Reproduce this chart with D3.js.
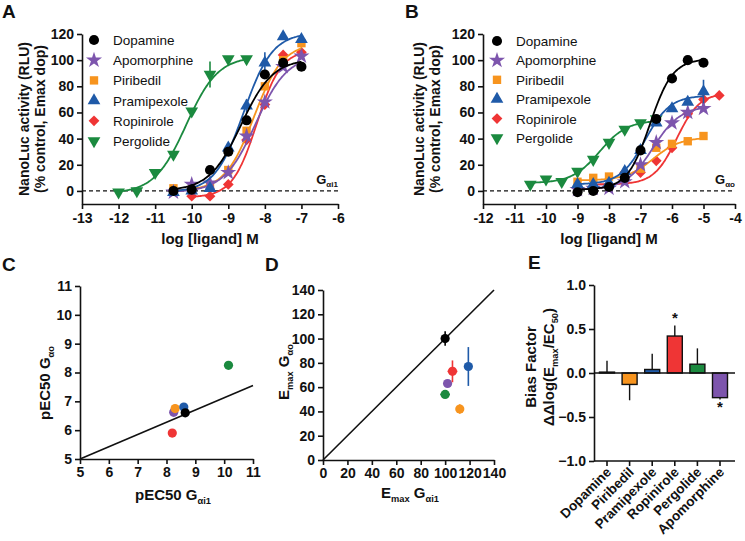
<!DOCTYPE html>
<html><head><meta charset="utf-8">
<script src="https://cdn.jsdelivr.net/npm/d3@7"></script>
<style>body{margin:0;background:#fff} text{font-family:"Liberation Sans",Arial,sans-serif;fill:#111}</style>
</head><body><svg id="c" width="745" height="541"></svg>
<script>
// ---------- DATA ----------
const ligands = ["Dopamine","Apomorphine","Piribedil","Pramipexole","Ropinirole","Pergolide"];
const colors  = ["#000000","#7d55ad","#f7941e","#1f5aa8","#ef3535","#1b8a3f"];
const symbolNames = ["circle","star","square","triangle","diamond","triangleDown"];

// Panel A (G alpha i1): log [ligand] M and response (%)
const aX = [
  [-10.5,-10,-9.5,-9,-8.5,-8,-7.5,-7],
  [-10.5,-10,-9.5,-9,-8.5,-8,-7.5,-7],
  [-10.5,-10,-9.5,-9,-8.5,-8,-7.5,-7],
  [-10.5,-10,-9.5,-9,-8.5,-8,-7.5,-7],
  [-10,-9.5,-9,-8.5,-8,-7.5,-7],
  [-12,-11.5,-11,-10.5,-10,-9.5,-9,-8.5]
];
const aY = [
  [0,1,16,30,54,89,98,95],
  [-1,5,6,14,42,68,95,103],
  [2,1,3,16,46,80,100,113],
  [-1,0,2,33,65,98,118,116],
  [-4,-4,5,39,66,104,106],
  [-1,0,14,28,61,89,101,101]
];
const aErr = [
  [0,0,0,0,0,0,0,0],
  [0,0,0,0,0,0,0,0],
  [0,0,0,0,0,0,0,4],
  [0,0,0,0,5,8,0,0],
  [0,0,0,0,0,0,0],
  [0,0,0,0,0,10,0,0]
];
// fitted curve params: bottom, top, logEC50, hill
const aBottom = [0,-1,0,-1,-5,-2];
const aTop    = [101,104,113,121,108,103];
const aLogEC50= [-8.65,-8.25,-8.3,-8.58,-8.22,-10.15];
const aHill   = [1,1,1.1,1.1,1.3,1];

// Panel B (G alpha o)
const bX = [
  [-9,-8.5,-8,-7.5,-7,-6.5,-6,-5.5,-5],
  [-9,-8.5,-8,-7.5,-7,-6.5,-6,-5.5,-5],
  [-9,-8.5,-8,-7.5,-7,-6.5,-6,-5.5,-5],
  [-9,-8.5,-8,-7.5,-7,-6.5,-6,-5.5,-5],
  [-8.5,-8,-7.5,-7,-6.5,-6,-5.5,-5,-4.5],
  [-10.5,-10,-9.5,-9,-8.5,-8,-7.5,-7,-6.5]
];
const bY = [
  [-1,0,3,10,31,55,86,100,98],
  [1,2,2,7,20,37,52,60,63],
  [7,10,11,12,17,33,36,38,42],
  [5,5,6,15,31,52,63,68,76],
  [3,5,14,14,23,33,59,70,73],
  [5,9,7,15,24,37,47,52,55]
];
const bErr = [
  [0,0,0,0,0,0,0,0,0],
  [0,0,0,0,0,0,0,0,0],
  [0,0,0,0,0,0,0,0,0],
  [0,0,0,0,0,0,0,0,9],
  [0,0,0,0,0,0,0,0,0],
  [0,0,0,0,0,0,0,0,0]
];
const bBottom = [1,1,8,5,5,6];
const bTop    = [101,65,41,73,75,54];
const bLogEC50= [-6.7,-6.6,-6.6,-6.85,-5.85,-8.3];
const bHill   = [1.2,1,1,1.1,1.2,1];

// Panel C: pEC50
const cGi1 = [8.65,8.25,8.3,8.6,8.2,10.15];
const cGo  = [6.6,6.62,6.75,6.8,5.9,8.25];
const cGoErr = [0.05,0.05,0.15,0.05,0.05,0.12];
const cLineX = [5,11];
const cLineY = [5,7.55];

// Panel D: Emax
const dGi1 = [100,102,112,119,106,100];
const dGo  = [100,63,42,77,73,54];
const dGoErr = [6,2,4,16,9,2];
const dGi1Err = [2,1,2,2,4,4];
const dLine = [0,140];

// Panel E: bias factor
const eCats = ["Dopamine","Piribedil","Pramipexole","Ropinirole","Pergolide","Apomorphine"];
const eVals = [0.01,-0.13,0.04,0.42,0.10,-0.28];
const eErr  = [0.13,0.18,0.18,0.12,0.18,0.02];
const eStar = [false,false,false,true,false,true];

const ticksA = [-13,-12,-11,-10,-9,-8,-7,-6];
const ticksB = [-12,-11,-10,-9,-8,-7,-6,-5,-4];
const ticksY = [0,20,40,60,80,100,120];

// ---------- DRAW ----------
const svg = d3.select("#c");
const colorOf = n => colors[ligands.indexOf(n)];
const TICKFS = 14;

function symbolPath(name, size){
  const map = {circle:d3.symbolCircle, star:d3.symbolStar, square:d3.symbolSquare,
    triangle:d3.symbolTriangle, diamond:d3.symbolSquare, triangleDown:d3.symbolTriangle};
  const sz = {circle:80, star:80, square:70, triangle:70, diamond:58, triangleDown:70}[name]*size;
  return d3.symbol().type(map[name]).size(sz)();
}
function symbolRot(name){ return name==="diamond"?45:(name==="triangleDown"?180:0); }

function styleAxis(g, fs){
  g.selectAll("path,line").attr("stroke","#111").attr("stroke-width",1.6);
  g.selectAll("text").attr("font-size",fs||TICKFS).attr("font-weight","bold")
   .attr("font-family","'Liberation Sans',Arial,sans-serif").attr("fill","#111");
}
function subText(sel, parts, fs){
  parts.forEach(p=>{
    const t = sel.append("tspan").text(p[0]);
    if(p[1]){ t.attr("font-size",fs*0.62).attr("dy",fs*0.25); }
    else { t.attr("dy", p[2]||0); }
  });
}
function panelLabel(t,x,y){
  svg.append("text").attr("x",x).attr("y",y).text(t).attr("font-size",19).attr("font-weight","bold");
}

function dosePanel(o){
  const x = d3.scaleLinear().domain(o.xd).range(o.xr);
  const y = d3.scaleLinear().domain([-10,120]).range([204,34]);
  const g = svg.append("g");
  const ga = g.append("g").attr("transform",`translate(${o.xr[0]},0)`)
    .call(d3.axisLeft(y).tickValues(ticksY).tickSize(5).tickSizeOuter(0).tickPadding(3));
  styleAxis(ga);
  const gb = g.append("g").attr("transform",`translate(0,${y(-10)})`)
    .call(d3.axisBottom(x).tickValues(o.ticks).tickSize(5).tickSizeOuter(0).tickFormat(d3.format("d")).tickPadding(4));
  styleAxis(gb);
  gb.selectAll("text").text(d=>String(d));
  g.append("line").attr("x1",o.xr[0]).attr("x2",o.xr[1]).attr("y1",y(0)).attr("y2",y(0))
    .attr("stroke","#111").attr("stroke-width",1.4).attr("stroke-dasharray","4,3");
  const order = [5,4,2,1,3,0];
  order.forEach(i=>{
    const xs = o.X[i];
    const lo = d3.min(xs), hi = d3.max(xs);
    const pts = d3.range(0,101).map(k=>{
      const lx = lo + (hi-lo)*k/100;
      return [lx, o.bottom[i] + (o.top[i]-o.bottom[i])/(1+Math.pow(10,(o.ec[i]-lx)*o.hill[i]))];
    });
    g.append("path").datum(pts).attr("fill","none").attr("stroke",colors[i]).attr("stroke-width",1.8)
      .attr("d",d3.line().x(d=>x(d[0])).y(d=>y(d[1])).curve(d3.curveBasis));
    xs.forEach((xv,j)=>{
      const e = o.E[i][j];
      if(e>0){
        g.append("line").attr("x1",x(xv)).attr("x2",x(xv)).attr("y1",y(o.Y[i][j]-e)).attr("y2",y(o.Y[i][j]+e))
          .attr("stroke",colors[i]).attr("stroke-width",1.6);
      }
      g.append("path").attr("d",symbolPath(symbolNames[i],1)).attr("fill",colors[i])
        .attr("transform",`translate(${x(xv)},${y(o.Y[i][j])}) rotate(${symbolRot(symbolNames[i])})`);
    });
  });
  ligands.forEach((n,i)=>{
    const ly = o.legY + i*o.legDy;
    g.append("path").attr("d",symbolPath(symbolNames[i],1)).attr("fill",colors[i])
      .attr("transform",`translate(${o.legX},${ly}) rotate(${symbolRot(symbolNames[i])})`);
    g.append("text").attr("x",o.legX+19).attr("y",ly+5).text(n).attr("font-size",13.5);
  });
  const gl = g.append("text").attr("x",o.xr[1]).attr("y",184).attr("text-anchor","end")
    .attr("font-size",13).attr("font-weight","bold");
  subText(gl,[["G",false],[o.gsub,true]],13);
  g.append("text").attr("x",(o.xr[0]+o.xr[1])/2).attr("y",244).attr("text-anchor","middle")
    .attr("font-size",15).attr("font-weight","bold").text("log [ligand] M");
  const yt = g.append("text").attr("transform",`translate(${o.ytX},119) rotate(-90)`)
    .attr("text-anchor","middle").attr("font-size",14).attr("font-weight","bold");
  yt.append("tspan").attr("x",0).attr("dy",0).text("NanoLuc activity (RLU)");
  yt.append("tspan").attr("x",0).attr("dy",16).text("(% control, Emax dop)");
}

dosePanel({xd:[-13,-6], xr:[82,338], ticks:ticksA, X:aX, Y:aY, E:aErr,
  bottom:aBottom, top:aTop, ec:aLogEC50, hill:aHill, legX:94, legY:40, legDy:20.2,
  gsub:"αi1", ytX:29});
dosePanel({xd:[-12,-4], xr:[483,735], ticks:ticksB, X:bX, Y:bY, E:bErr,
  bottom:bBottom, top:bTop, ec:bLogEC50, hill:bHill, legX:497, legY:41, legDy:19.4,
  gsub:"αo", ytX:424});

panelLabel("A",2,18); panelLabel("B",405,18);
panelLabel("C",2,271); panelLabel("D",265,271); panelLabel("E",528,269);

// ---------- Panel C ----------
(function(){
  const x = d3.scaleLinear().domain([5,11]).range([80,253]);
  const y = d3.scaleLinear().domain([5,11]).range([459,286]);
  const g = svg.append("g");
  const ga = g.append("g").attr("transform","translate(80,0)")
    .call(d3.axisLeft(y).ticks(6).tickSize(5).tickSizeOuter(0).tickPadding(3));
  styleAxis(ga);
  const gb = g.append("g").attr("transform","translate(0,459)")
    .call(d3.axisBottom(x).ticks(6).tickSize(5).tickSizeOuter(0).tickPadding(3));
  styleAxis(gb);
  g.append("line").attr("x1",x(cLineX[0])).attr("y1",y(cLineY[0])).attr("x2",x(cLineX[1])).attr("y2",y(cLineY[1]))
    .attr("stroke","#111").attr("stroke-width",1.6);
  [1,2,4,3,5,0].forEach(i=>{
    if(cGoErr[i]>0) g.append("line").attr("x1",x(cGi1[i])).attr("x2",x(cGi1[i]))
      .attr("y1",y(cGo[i]-cGoErr[i])).attr("y2",y(cGo[i]+cGoErr[i])).attr("stroke",colors[i]).attr("stroke-width",1.6);
    g.append("circle").attr("cx",x(cGi1[i])).attr("cy",y(cGo[i])).attr("r",4.6).attr("fill",colors[i]);
  });
  const xt = g.append("text").attr("x",173).attr("y",500).attr("text-anchor","middle").attr("font-size",15).attr("font-weight","bold");
  subText(xt,[["pEC50 G",false],["αi1",true]],15);
  const yt = g.append("text").attr("transform","translate(50,383) rotate(-90)").attr("text-anchor","middle").attr("font-size",15).attr("font-weight","bold");
  subText(yt,[["pEC50 G",false],["αo",true]],15);
})();

// ---------- Panel D ----------
(function(){
  const x = d3.scaleLinear().domain([0,140]).range([323,494]);
  const y = d3.scaleLinear().domain([0,140]).range([460,290]);
  const g = svg.append("g");
  const ga = g.append("g").attr("transform","translate(323,0)")
    .call(d3.axisLeft(y).tickValues(d3.range(0,141,20)).tickSize(5).tickSizeOuter(0).tickPadding(3));
  styleAxis(ga);
  const gb = g.append("g").attr("transform","translate(0,460)")
    .call(d3.axisBottom(x).tickValues(d3.range(0,141,20)).tickSize(5).tickSizeOuter(0).tickPadding(3));
  styleAxis(gb);
  g.append("line").attr("x1",x(dLine[0])).attr("y1",y(dLine[0])).attr("x2",x(dLine[1])).attr("y2",y(dLine[1]))
    .attr("stroke","#111").attr("stroke-width",1.6);
  [5,1,2,4,3,0].forEach(i=>{
    g.append("line").attr("x1",x(dGi1[i])).attr("x2",x(dGi1[i]))
      .attr("y1",y(dGo[i]-dGoErr[i])).attr("y2",y(dGo[i]+dGoErr[i])).attr("stroke",colors[i]).attr("stroke-width",1.6);
    g.append("line").attr("y1",y(dGo[i])).attr("y2",y(dGo[i]))
      .attr("x1",x(dGi1[i]-dGi1Err[i])).attr("x2",x(dGi1[i]+dGi1Err[i])).attr("stroke",colors[i]).attr("stroke-width",1.6);
    g.append("circle").attr("cx",x(dGi1[i])).attr("cy",y(dGo[i])).attr("r",4.6).attr("fill",colors[i]);
  });
  const xt = g.append("text").attr("x",410).attr("y",498).attr("text-anchor","middle").attr("font-size",15).attr("font-weight","bold");
  subText(xt,[["E",false],["max",true],[" G",false,-15*0.25],["αi1",true]],15);
  const yt = g.append("text").attr("transform","translate(289,372) rotate(-90)").attr("text-anchor","middle").attr("font-size",15).attr("font-weight","bold");
  subText(yt,[["E",false],["max",true],[" G",false,-15*0.25],["αo",true]],15);
})();

// ---------- Panel E ----------
(function(){
  const x = d3.scalePoint().domain(eCats).range([607,720]);
  const y = d3.scaleLinear().domain([-1,1]).range([461,285]);
  const g = svg.append("g");
  const ga = g.append("g").attr("transform","translate(594,0)")
    .call(d3.axisLeft(y).tickValues([-1,-0.5,0,0.5,1]).tickFormat(d3.format(".1f")).tickSize(5).tickSizeOuter(0).tickPadding(3));
  styleAxis(ga);
  g.append("line").attr("x1",594).attr("x2",735).attr("y1",461).attr("y2",461).attr("stroke","#111").attr("stroke-width",1.6);
  eCats.forEach(c=>{
    g.append("line").attr("x1",x(c)).attr("x2",x(c)).attr("y1",461).attr("y2",466).attr("stroke","#111").attr("stroke-width",1.6);
    g.append("text").attr("transform",`translate(${x(c)+5},${473}) rotate(-45)`).attr("text-anchor","end")
      .attr("font-size",13.5).attr("font-weight","bold").text(c);
  });
  const bw = 15;
  eCats.forEach((c,i)=>{
    const v = eVals[i], e = eErr[i];
    g.append("line").attr("x1",x(c)).attr("x2",x(c)).attr("y1",y(v)).attr("y2",y(v+Math.sign(v)*e))
      .attr("stroke","#111").attr("stroke-width",1.4);
    g.append("rect").attr("x",x(c)-bw/2).attr("width",bw).attr("y",y(Math.max(v,0))).attr("height",Math.abs(y(v)-y(0)))
      .attr("fill",colorOf(c)).attr("stroke","#111").attr("stroke-width",1.4);
    if(eStar[i]){
      const ey = y(v+Math.sign(v)*e);
      g.append("text").attr("x",x(c)).attr("y",v>0?ey-2:ey+13).attr("text-anchor","middle").attr("font-size",15).attr("font-weight","bold").text("*");
    }
  });
  g.append("line").attr("x1",594).attr("x2",735).attr("y1",y(0)).attr("y2",y(0)).attr("stroke","#111").attr("stroke-width",1.6);
  const yt = g.append("text").attr("transform","translate(536,367) rotate(-90)").attr("text-anchor","middle").attr("font-size",15).attr("font-weight","bold");
  yt.append("tspan").attr("x",0).attr("dy",0).text("Bias Factor");
  const t2 = g.append("text").attr("transform","translate(554,367) rotate(-90)").attr("text-anchor","middle").attr("font-size",15).attr("font-weight","bold");
  subText(t2,[["ΔΔlog(E",false],["max",true],["/EC",false,-15*0.25],["50",true],[")",false,-15*0.25]],15);
})();
</script></body></html>
